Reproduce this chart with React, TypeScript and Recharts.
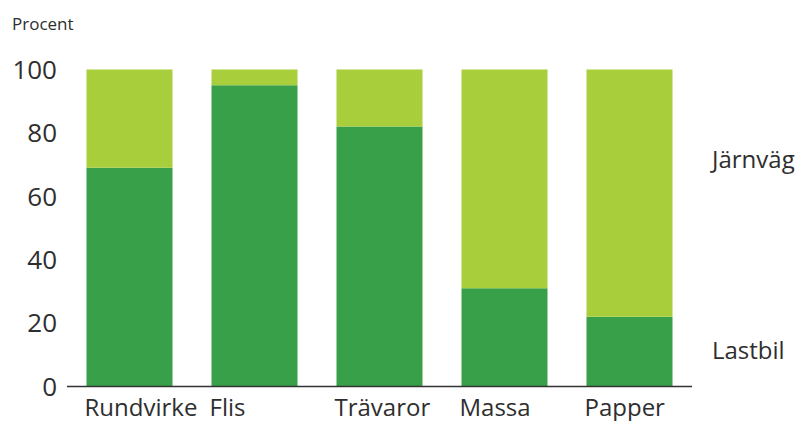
import { BarChart, Bar, XAxis, YAxis } from 'recharts';

const categories = ['Rundvirke', 'Flis', 'Trävaror', 'Massa', 'Papper'];
const lastbil = [69, 95, 82, 31, 22];
const jarnvag = [31, 5, 18, 69, 78];
const yTicks = [0, 20, 40, 60, 80, 100];

const data = categories.map((name, i) => ({
  name,
  lastbil: lastbil[i],
  jarnvag: jarnvag[i],
}));

const FONT = '"Open Sans", sans-serif';
const TEXT = '#2e2e2e';

// category labels sit left-aligned with the bar's left edge
const CategoryTick = ({ x, y, payload }: any) => (
  <text
    x={x - 45}
    y={y + 21}
    textAnchor="start"
    fill={TEXT}
    fontSize={24}
    fontFamily={FONT}
  >
    {payload.value}
  </text>
);

export default function App() {
  return (
    <div style={{ position: 'absolute', left: 0, top: 0, width: 798, height: 421, background: '#fff' }}>
      <div
        style={{
          position: 'absolute',
          left: 12,
          top: 12,
          fontFamily: FONT,
          fontSize: 17,
          color: TEXT,
        }}
      >
        Procent
      </div>
      <div
        style={{
          position: 'absolute',
          left: 712,
          top: 142,
          fontFamily: FONT,
          fontSize: 24,
          color: TEXT,
        }}
      >
        Järnväg
      </div>
      <div
        style={{
          position: 'absolute',
          left: 712,
          top: 333,
          fontFamily: FONT,
          fontSize: 24,
          color: TEXT,
        }}
      >
        Lastbil
      </div>
      <BarChart
        width={798}
        height={421}
        data={data}
        margin={{ top: 69.5, right: 106, bottom: 0, left: 0 }}
        barCategoryGap={19.5}
      >
        <XAxis
          dataKey="name"
          height={34.5}
          tickLine={false}
          axisLine={{ stroke: '#333', strokeWidth: 1.5 }}
          tick={<CategoryTick />}
          interval={0}
        />
        <YAxis
          width={67}
          domain={[0, 100]}
          ticks={yTicks}
          axisLine={false}
          tickLine={false}
          tickMargin={4}
          tick={{ fill: TEXT, fontSize: 26, fontFamily: FONT }}
        />
        <Bar dataKey="lastbil" stackId="a" fill="#38a048" isAnimationActive={false} />
        <Bar dataKey="jarnvag" stackId="a" fill="#a9ce3b" isAnimationActive={false} />
      </BarChart>
    </div>
  );
}
